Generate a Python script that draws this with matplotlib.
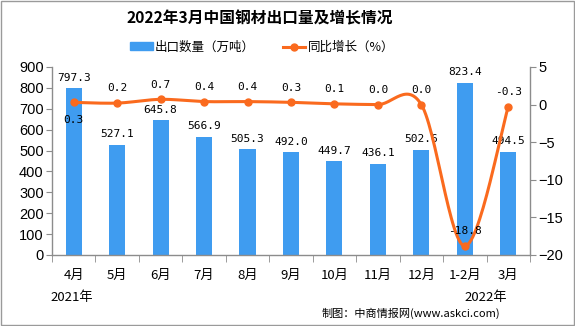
import numpy as np
import matplotlib
matplotlib.use("Agg")
import matplotlib.pyplot as plt
from matplotlib.lines import Line2D
from matplotlib.patches import Patch, Rectangle

plt.rcParams['font.family'] = ['Noto Sans CJK SC', 'DejaVu Sans']

categories = ['4月', '5月', '6月', '7月', '8月', '9月', '10月', '11月', '12月', '1-2月', '3月']
exports = [797.3, 527.1, 645.8, 566.9, 505.3, 492.0, 449.7, 436.1, 502.6, 823.4, 494.5]
growth = [0.3, 0.2, 0.7, 0.4, 0.4, 0.3, 0.1, 0.0, 0.0, -18.8, -0.3]
year_labels = ['2021年', '2022年']

BAR = '#3f9cf0'
ORANGE = '#fa6a1e'
AXC = '#8c8c8c'

fig = plt.figure(figsize=(5.75, 3.26), dpi=100)
ax = fig.add_axes([0.0904, 0.2178, 0.8313, 0.5767])
ax2 = ax.twinx()

x = np.arange(len(categories))
ax.bar(x, exports, width=0.37, color=BAR, zorder=2)
ax.set_xlim(-0.5, len(categories) - 0.5)
ax.set_ylim(0, 900)
ax.set_yticks(np.arange(0, 901, 100))
ax2.set_ylim(-20, 5)
ax2.set_yticks(np.arange(-20, 6, 5))

# smooth line rendering (Bezier smoothing like Excel)
xs, ys = [], []
g = np.array(growth, dtype=float)
n = len(g)
for i in range(n - 1):
    p0 = np.array([x[i - 1] if i > 0 else x[i], g[i - 1] if i > 0 else g[i]])
    p1 = np.array([x[i], g[i]])
    p2 = np.array([x[i + 1], g[i + 1]])
    p3 = np.array([x[i + 2], g[i + 2]]) if i + 2 < n else p2
    c1 = p1 + (p2 - p0) / 6
    c2 = p2 - (p3 - p1) / 6
    t = np.linspace(0, 1, 30)[:, None]
    pts = (1 - t) ** 3 * p1 + 3 * (1 - t) ** 2 * t * c1 + 3 * (1 - t) * t ** 2 * c2 + t ** 3 * p2
    xs.extend(pts[:, 0]); ys.extend(pts[:, 1])
ax2.plot(xs, ys, color=ORANGE, lw=2.2, zorder=3, solid_capstyle='round')
ax2.plot(x, growth, 'o', color=ORANGE, ms=5, zorder=4)

for a in (ax, ax2):
    for s in a.spines.values():
        s.set_visible(False)
ax.spines['left'].set_visible(True)
ax.spines['bottom'].set_visible(True)
ax2.spines['right'].set_visible(True)
for s in (ax.spines['left'], ax.spines['bottom'], ax2.spines['right']):
    s.set_color(AXC)
    s.set_linewidth(1)

ax.set_xticks(x)
ax.set_xticklabels(categories, fontsize=9.5)
ax.tick_params(axis='x', length=0, pad=10)
ax.set_xticks(np.arange(-0.5, len(categories), 1), minor=True)
ax.tick_params(axis='x', which='minor', length=5, color=AXC)
ax.tick_params(axis='y', length=4, color=AXC, labelsize=10.5, pad=2)
ax2.tick_params(axis='y', length=4, color=AXC, labelsize=10.5, pad=2)
for lab in ax.get_yticklabels() + ax2.get_yticklabels():
    lab.set_family(['Liberation Sans', 'DejaVu Sans'])
ax2.set_yticklabels([str(v).replace('-', '−') for v in range(-20, 6, 5)])

# bar labels
for xi, v in zip(x, exports):
    ax.annotate(f'{v:.1f}', (xi, v), xytext=(0, 4), textcoords='offset points',
                ha='center', va='bottom', fontsize=8, family='DejaVu Sans Mono', zorder=5)
# growth labels
for i, (xi, v) in enumerate(zip(x, growth)):
    if i == 0:
        off, va = -9, 'top'
    else:
        off, va = 7, 'bottom'
    ax2.annotate(f'{v:.1f}', (xi, v), xytext=(0, off), textcoords='offset points',
                 ha='center', va=va, fontsize=8, family='DejaVu Sans Mono', zorder=5)

fig.text(260 / 575, 0.945, '2022年3月中国钢材出口量及增长情况', ha='center', va='center',
         fontsize=11.3, fontweight='bold')
handles = [Patch(color=BAR), Line2D([0], [0], color=ORANGE, lw=2.2, marker='o', ms=5)]
fig.legend(handles, ['出口数量（万吨）', '同比增长（%）'], loc='center', bbox_to_anchor=(262 / 575, 0.855),
           ncol=2, frameon=False, fontsize=9, handlelength=1.8, handleheight=0.6, columnspacing=2.2,
           handletextpad=0.2)

fig.text(72 / 575, 1 - 298 / 326, year_labels[0], ha='center', va='center', fontsize=9.5)
fig.text(486 / 575, 1 - 298 / 326, year_labels[1], ha='center', va='center', fontsize=9.5)
fig.text(500 / 575, 1 - 313 / 326, '制图：中商情报网(www.askci.com)', ha='right', va='center', fontsize=8)

fig.add_artist(Rectangle((0.001, 0.002), 0.997, 0.995, transform=fig.transFigure, fill=False,
                         edgecolor='#9a9a9a', lw=1))

fig.savefig('out.png', dpi=100)
